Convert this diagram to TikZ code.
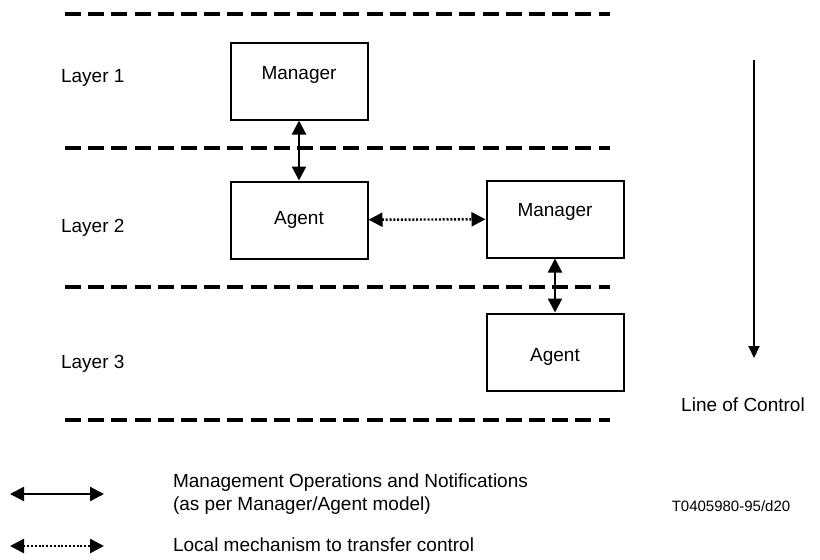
\documentclass[tikz,border=0pt]{standalone}
\usepackage{fontspec}
\setmainfont{Liberation Sans}
\usetikzlibrary{arrows.meta}
\tikzset{box/.style = {shape=rectangle,draw,line width=1pt,minimum width=68.5pt,minimum height=38.5pt}}
\tikzset{layerline/.style = {line width=1.6pt,dash pattern=on 8pt off 3.6pt}}
\tikzset{op/.style = {{Triangle[length=7pt,width=7pt]}-{Triangle[length=7pt,width=7pt]},line width=1.1pt}}
\tikzset{local/.style = {{Triangle[length=7pt,width=7pt]}-{Triangle[length=7pt,width=7pt]},line width=1.2pt,dash pattern=on 1pt off 0.9pt}}

\begin{document}
\begin{tikzpicture}[x=0.5pt,y=-0.5pt,font=\fontsize{9.5}{11.5}\selectfont]
          \useasboundingbox (0,0) rectangle (820,559);
          % layer boundaries
          \draw[layerline] (65,14) -- (610,14);
          \draw[layerline] (65,148) -- (610,148);
          \draw[layerline] (65,287) -- (610,287);
          \draw[layerline] (65,420) -- (610,420);

          \node[anchor=west] (L1) at (54,78) {Layer 1};
          \node[anchor=west] (L2) at (54,228) {Layer 2};
          \node[anchor=west] (L3) at (54,364) {Layer 3};

          \node[box] (M1) at (299,81) {};
          \node (M1t) at (299,75) {Manager};
          \node[box] (A1) at (299,220) {Agent};
          \node[box] (M2) at (555,219) {};
          \node (M2t) at (555,212) {Manager};
          \node[box] (A2) at (555,352) {};
          \node (A2t) at (555,357) {Agent};

          \path[op] (M1) edge (A1);
          \path[local] (A1) edge (M2);
          \path[op] (M2) edge (A2);

          % line of control
          \coordinate (C1) at (754,60);
          \coordinate (C2) at (754,358);
          \draw[-{Triangle[length=6pt,width=5.5pt]},line width=1pt] (C1) -- (C2);
          \node (LC) at (743,405) {Line of Control};

          % legend
          \coordinate (K1) at (10,494);
          \coordinate (K2) at (104,494);
          \coordinate (K3) at (10,546);
          \coordinate (K4) at (104,546);
          \path[op] (K1) edge (K2);
          \path[local] (K3) edge (K4);
          \node[anchor=west,align=left] (T1) at (166,494) {Management Operations and Notifications\\(as per Manager/Agent model)};
          \node[anchor=west] (T2) at (166,545) {Local mechanism to transfer control};
          \node (ID) at (731,506) {\fontsize{7.5}{9}\selectfont T0405980-95/d20};
        \end{tikzpicture}
\end{document}
